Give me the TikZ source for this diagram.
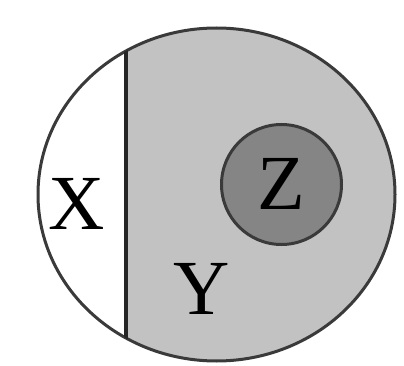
\documentclass[tikz,border=0pt]{standalone}
\usepackage{fontspec}
\setmainfont{Liberation Serif}
\definecolor{outer}{HTML}{C2C2C2}
\definecolor{inner}{HTML}{858585}
\definecolor{edge}{HTML}{3A3A3A}
\tikzset{lbl/.style={font=\fontsize{78}{78}\selectfont, text=black, inner sep=0pt}}
\begin{document}
\begin{tikzpicture}[x=1pt,y=-1pt]
\useasboundingbox (0,0) rectangle (404,366);
\fill[white] (0,0) rectangle (404,366);
\coordinate (c) at (216.5,194.5);
\begin{scope}
  \clip (c) ellipse [x radius=178.5, y radius=166.5];
  \fill[outer] (125,0) rectangle (404,366);
\end{scope}
\draw[edge, line width=3pt] (c) ellipse [x radius=178.5, y radius=166.5];
\coordinate (ltop) at (126,40);
\coordinate (lbot) at (126,350);
\begin{scope}
  \clip (c) ellipse [x radius=178.5, y radius=166.5];
  \draw[black!85, line width=3.5pt] (ltop) -- (lbot);
\end{scope}
\node[circle, draw=edge, line width=3pt, fill=inner, minimum size=120pt, inner sep=0pt] (z) at (281.5,184.5) {};
\node[lbl] (zl) at (281.5,184) {Z};
\node[lbl] (x) at (77,204) {X};
\node[lbl] (y) at (202,289) {Y};
\end{tikzpicture}
\end{document}
